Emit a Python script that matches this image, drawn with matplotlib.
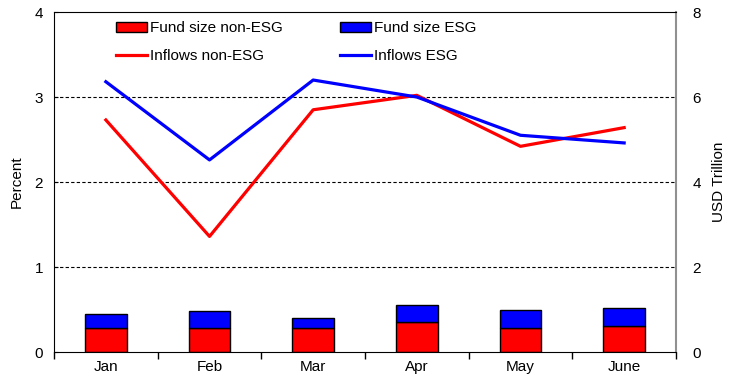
import matplotlib
matplotlib.use("Agg")
import matplotlib.pyplot as plt
import numpy as np

plt.rcParams['font.family'] = ['Liberation Sans', 'DejaVu Sans']

months = ["Jan", "Feb", "Mar", "Apr", "May", "June"]
fund_non_esg = [0.56, 0.57, 0.56, 0.71, 0.57, 0.62]
fund_esg = [0.33, 0.39, 0.23, 0.39, 0.43, 0.41]
inflows_non_esg = [2.73, 1.36, 2.85, 3.02, 2.42, 2.64]
inflows_esg = [3.18, 2.26, 3.20, 3.00, 2.55, 2.46]
left_ticks = [0, 1, 2, 3, 4]
right_ticks = [0, 2, 4, 6, 8]

fig = plt.figure(figsize=(7.4, 3.82), dpi=100)
ax = fig.add_axes([0.073, 0.0785, 0.8405, 0.89])
ax2 = ax.twinx()

x = np.arange(len(months))
b1 = ax2.bar(x, fund_non_esg, width=0.4, color='#ff0000', edgecolor='black', linewidth=1.0,
             label='Fund size non-ESG')
b2 = ax2.bar(x, fund_esg, width=0.4, bottom=fund_non_esg, color='#0000ff', edgecolor='black',
             linewidth=1.0, label='Fund size ESG')

l1, = ax.plot(x, inflows_non_esg, color='#ff0000', lw=2.3, label='Inflows non-ESG')
l2, = ax.plot(x, inflows_esg, color='#0000ff', lw=2.3, label='Inflows ESG')

ax.set_zorder(ax2.get_zorder() + 1)
ax.patch.set_visible(False)

ax.set_xlim(-0.5, 5.5)
ax.set_ylim(0, 4)
ax2.set_ylim(0, 8)
ax.set_yticks(left_ticks)
ax2.set_yticks(right_ticks)

for yv in [1, 2, 3]:
    ax.axhline(yv, color='black', lw=0.8, ls=(0, (3, 2)), zorder=0)

ax.set_xticks(x)
ax.set_xticklabels(months, fontsize=11)
ax.set_xticks(np.arange(-0.5, 6, 1), minor=True)
ax.tick_params(axis='x', which='major', length=0, pad=6)
ax.tick_params(axis='x', which='minor', length=5, direction='out', width=1)
ax.tick_params(axis='y', direction='in', length=3, labelsize=11, pad=8)
ax2.tick_params(axis='y', length=0, labelsize=11, pad=12)

ax.set_ylabel('Percent', fontsize=11, labelpad=8)
ax2.set_ylabel('USD Trillion', fontsize=11, labelpad=8)

for s in ['left', 'bottom', 'top']:
    ax.spines[s].set_color('black')
ax.spines['right'].set_visible(False)
ax2.spines['right'].set_color('#909090')
ax2.spines['right'].set_linewidth(1.5)
for s in ['left', 'bottom', 'top']:
    ax2.spines[s].set_visible(False)

leg = ax.legend([b1, l1, b2, l2],
                ['Fund size non-ESG', 'Inflows non-ESG', 'Fund size ESG', 'Inflows ESG'],
                ncol=2, loc='upper left', bbox_to_anchor=(0.085, 1.0), frameon=False,
                fontsize=11, handlelength=2.0, handletextpad=0.2, columnspacing=3.8,
                labelspacing=0.9, borderaxespad=0.2)

fig.savefig('out.png', dpi=100)
